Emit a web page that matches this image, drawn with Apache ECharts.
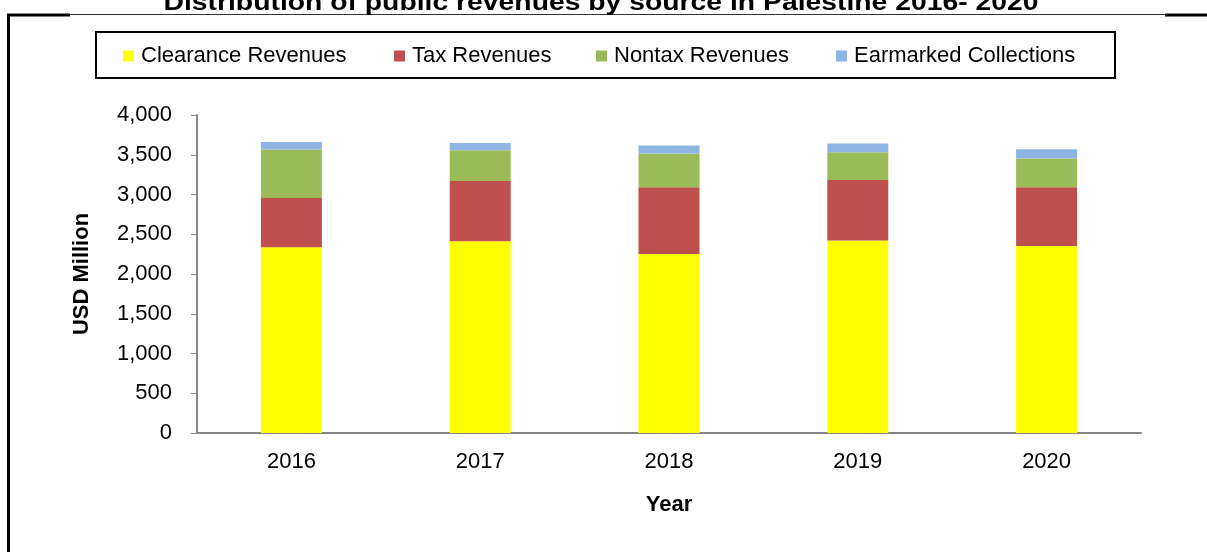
<!DOCTYPE html>
<html>
<head>
<meta charset="utf-8">
<title>Distribution of public revenues by source in Palestine 2016- 2020</title>
<script src="https://cdn.jsdelivr.net/npm/echarts@6/dist/echarts.min.js"></script>
<style>
  html, body { margin: 0; padding: 0; background: #fff; }
  #chart { width: 1207px; height: 552px; }
</style>
</head>
<body>
<div id="chart"></div>
<script>
// Public revenues by source, USD million
const years = ['2016', '2017', '2018', '2019', '2020'];
const clearanceRevenues = [2336, 2412, 2252, 2420, 2353];
const taxRevenues = [620, 757, 838, 762, 737];
const nontaxRevenues = [610, 388, 425, 350, 362];
const earmarkedCollections = [95, 92, 101, 109, 117];
const seriesNames = ['Clearance Revenues', 'Tax Revenues', 'Nontax Revenues', 'Earmarked Collections'];
const yTicks = [0, 500, 1000, 1500, 2000, 2500, 3000, 3500, 4000];

const FONT = 'Liberation Sans, Arial, sans-serif';
const colors = ['#FFFF00', '#C0504D', '#9BBB59', '#8DB4E2'];
const seriesData = [clearanceRevenues, taxRevenues, nontaxRevenues, earmarkedCollections];
const legendLefts = [123, 394, 596, 836];

const chart = echarts.init(document.getElementById('chart'), null, { renderer: 'canvas' });

const option = {
  animation: false,
  backgroundColor: '#ffffff',
  color: colors,
  graphic: [
    // outer frame: thick on the left and at the top corners, thin under the title
    { type: 'polyline', silent: true, z: 10,
      shape: { points: [[8.5, 560], [8.5, 15], [70, 15]] },
      style: { stroke: '#000', lineWidth: 3, fill: null } },
    { type: 'line', silent: true, z: 10,
      shape: { x1: 70, y1: 14.5, x2: 1165, y2: 14.5 },
      style: { stroke: '#333', lineWidth: 1 } },
    { type: 'line', silent: true, z: 10,
      shape: { x1: 1165, y1: 15, x2: 1210, y2: 15 },
      style: { stroke: '#000', lineWidth: 3 } },
    // legend frame
    { type: 'rect', silent: true, z: 10,
      shape: { x: 96, y: 32, width: 1019, height: 46 },
      style: { stroke: '#000', lineWidth: 2, fill: null } },
    // title
    { type: 'text', silent: true, z: 11,
      x: 601, y: 3, scaleX: 1.18,
      style: { text: 'Distribution of public revenues by source in Palestine 2016- 2020',
        font: 'bold 24px ' + FONT, fill: '#000', align: 'center', verticalAlign: 'middle' } }
  ],
  legend: seriesNames.map((name, i) => ({
    data: [name],
    left: legendLefts[i],
    top: 45,
    itemWidth: 11,
    itemHeight: 11,
    icon: 'rect',
    itemGap: 0,
    padding: 0,
    textStyle: { fontFamily: FONT, fontSize: 22, color: '#000', padding: [0, 0, 0, 2] }
  })),
  grid: { left: 197, right: 66, top: 115, bottom: 119, containLabel: false },
  xAxis: {
    type: 'category',
    data: years,
    name: 'Year',
    nameLocation: 'middle',
    nameGap: 61,
    nameTextStyle: { fontFamily: FONT, fontSize: 22, fontWeight: 'bold', color: '#000' },
    axisLine: { lineStyle: { color: '#868686', width: 2 } },
    axisTick: { show: false },
    axisLabel: { fontFamily: FONT, fontSize: 22, color: '#000', margin: 18 }
  },
  yAxis: {
    type: 'value',
    min: yTicks[0],
    max: yTicks[yTicks.length - 1],
    interval: yTicks[1] - yTicks[0],
    name: 'USD Million',
    nameLocation: 'middle',
    nameGap: 104,
    nameTextStyle: { fontFamily: FONT, fontSize: 22, fontWeight: 'bold', color: '#000' },
    axisLine: { show: true, lineStyle: { color: '#868686', width: 2 } },
    axisTick: { show: true, length: 6, lineStyle: { color: '#868686', width: 1 } },
    splitLine: { show: false },
    axisLabel: {
      fontFamily: FONT, fontSize: 22, color: '#000', margin: 25,
      formatter: v => v.toLocaleString('en-US')
    }
  },
  series: seriesNames.map((name, i) => ({
    name: name,
    type: 'bar',
    stack: 'revenues',
    barWidth: 61,
    data: seriesData[i],
    itemStyle: { color: colors[i] }
  }))
};

chart.setOption(option);
</script>
</body>
</html>
